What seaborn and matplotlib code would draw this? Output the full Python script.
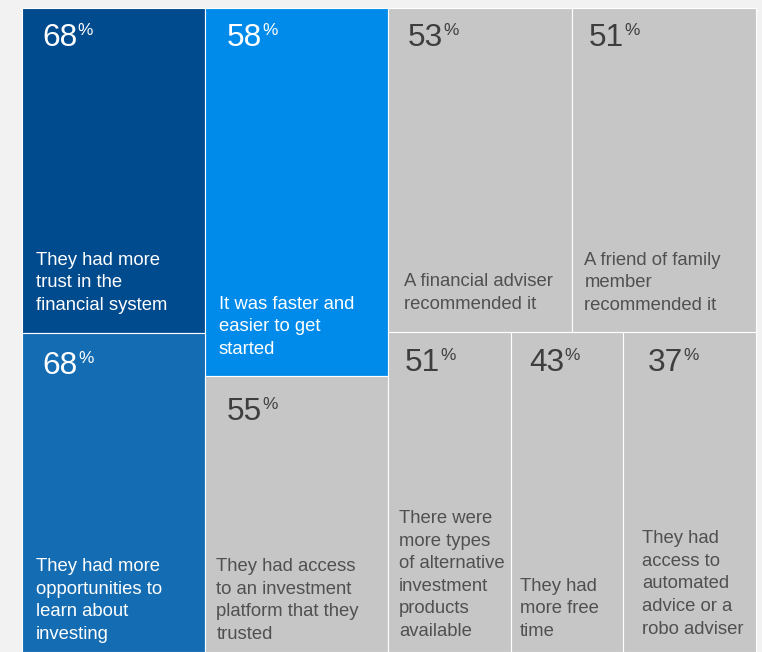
import matplotlib
matplotlib.use("Agg")
import matplotlib.pyplot as plt
from matplotlib.font_manager import FontProperties
import seaborn as sns

# Share of respondents giving each reason
values = [68, 58, 53, 51, 68, 55, 51, 43, 37]
labels = [
    "They had more\ntrust in the\nfinancial system",
    "It was faster and\neasier to get\nstarted",
    "A financial adviser\nrecommended it",
    "A friend of family\nmember\nrecommended it",
    "They had more\nopportunities to\nlearn about\ninvesting",
    "They had access\nto an investment\nplatform that they\ntrusted",
    "There were\nmore types\nof alternative\ninvestment\nproducts\navailable",
    "They had\nmore free\ntime",
    "They had\naccess to\nautomated\nadvice or a\nrobo adviser",
]
tone = ["navy", "bright", "grey", "grey", "blue", "grey", "grey", "grey", "grey"]

# Tile layout in pixel units (left, top, right, bottom)
tile_left = [22, 205, 388, 572, 22, 205, 388, 511, 623]
tile_top = [8, 8, 8, 8, 333, 376, 332, 332, 332]
tile_right = [205, 388, 572, 755.5, 205, 388, 511, 623, 755.5]
tile_bottom = [333, 376, 332, 332, 652, 652, 652, 652, 652]

# Anchors: number (x, baseline) and caption (x, last-line baseline)
num_x = [42, 227, 408, 589, 42.5, 227, 405, 529, 648]
num_base = [46.5, 46.5, 46.5, 46.5, 374.5, 420, 371, 371, 371]
cap_x = [36, 219, 403.5, 584.5, 35.5, 216.5, 399, 520, 642]
cap_base = [310, 354, 309, 310, 639, 639, 636, 636, 633.5]

fill = {"navy": "#004a8e", "bright": "#008beb", "blue": "#146cb3", "grey": "#c6c6c6"}
ink_num = {"navy": "white", "bright": "white", "blue": "white", "grey": "#3e3e3e"}
ink_cap = {"navy": "white", "bright": "white", "blue": "white", "grey": "#505050"}

FAMILY = ["Liberation Sans", "DejaVu Sans"]
sns.set_theme(style="white")
plt.rcParams["font.family"] = FAMILY

W, H = 762, 652
fig = plt.figure(figsize=(W / 100, H / 100), dpi=100, facecolor="#f2f2f2")
ax = fig.add_axes([0, 0, 1, 1])
ax.set_xlim(0, W)
ax.set_ylim(H, 0)
ax.axis("off")

palette = sns.color_palette([fill[t] for t in tone])
widths = [r - l for l, r in zip(tile_left, tile_right)]
heights = [b - t for t, b in zip(tile_top, tile_bottom)]
ax.bar(tile_left, heights, width=widths, bottom=tile_top, align="edge",
       color=palette, edgecolor="white", linewidth=0.8)

NUM_PT, PCT_PT, CAP_PT = 22.8, 12.4, 13.3
PITCH_PX = 22.4

# Line pitch for captions: matplotlib spaces baselines by linespacing * ascent of "lp"
renderer = fig.canvas.get_renderer()
fp = FontProperties(family=FAMILY, size=CAP_PT)
_, lp_h, lp_d = renderer.get_text_width_height_descent("lp", fp, ismath=False)
spacing = PITCH_PX / (lp_h - lp_d) * (22.4 / 26.4) * (22.4 / 23.0)

for i, v in enumerate(values):
    t = tone[i]
    num = ax.text(num_x[i], num_base[i], f"{v}", fontsize=NUM_PT,
                  color=ink_num[t], ha="left", va="baseline")
    ax.annotate("%", xy=(1, 1), xycoords=num, xytext=(0.2, 0.3),
                textcoords="offset points", fontsize=PCT_PT,
                color=ink_num[t], ha="left", va="top")
    ax.text(cap_x[i], cap_base[i] + lp_d, labels[i], fontsize=CAP_PT,
            color=ink_cap[t], ha="left", va="bottom", linespacing=spacing)

fig.savefig("out.png", dpi=100, facecolor=fig.get_facecolor())
